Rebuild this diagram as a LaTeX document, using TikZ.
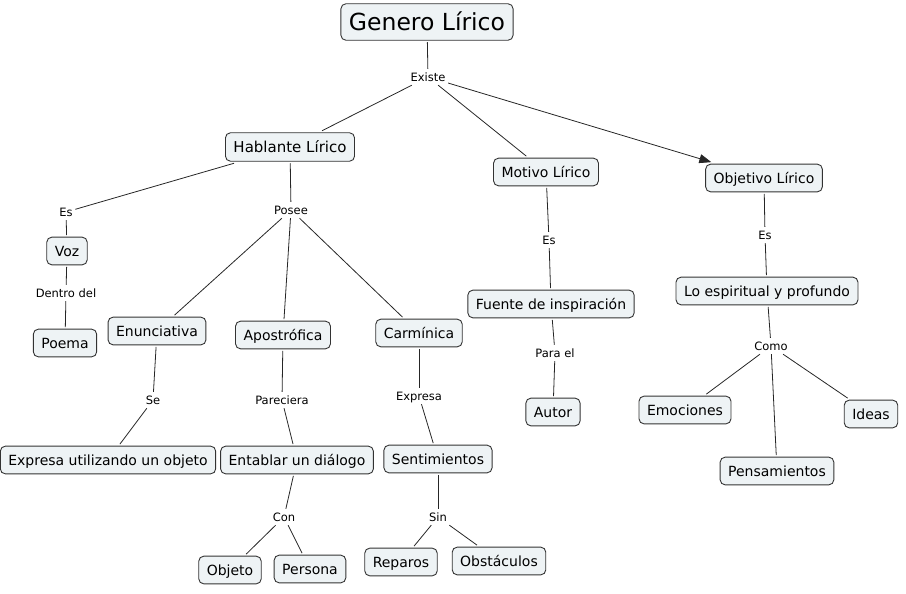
\documentclass[tikz,border=0pt]{standalone}
\usepackage{fontspec}
\setmainfont{DejaVu Sans}
\usetikzlibrary{arrows.meta}
\definecolor{boxfill}{HTML}{EEF3F5}
\definecolor{boxline}{HTML}{333333}
\tikzset{
  concept/.style={draw=boxline, fill=boxfill, rounded corners=5pt, line width=0.9pt,
    font=\fontsize{14}{14}\selectfont, text height=11.9pt, text depth=1.8pt,
    inner xsep=8pt, inner ysep=7pt, outer sep=2pt},
  big/.style={font=\fontsize{23.5}{24}\selectfont, text height=19.9pt, text depth=2.6pt, inner ysep=7pt},
  mid/.style={font=\fontsize{15}{15}\selectfont, text height=12.7pt, text depth=1.8pt},
  lbl/.style={font=\fontsize{11.5}{12}\selectfont, inner sep=2.5pt, text height=9.7pt, text depth=1.3pt},
  link/.style={draw=black!85, line width=0.8pt},
}
\begin{document}
\begin{tikzpicture}[x=1pt,y=-1pt]
\useasboundingbox (0,0) rectangle (906,594);
% concepts
\node[concept,big] (gen) at (427,22) {Genero Lírico};
\node[concept,mid] (hab) at (290,147) {Hablante Lírico};
\node[concept] (mot) at (546,172) {Motivo Lírico};
\node[concept] (obj) at (764,178) {Objetivo Lírico};
\node[concept] (voz) at (67,251) {Voz};
\node[concept] (poe) at (65,343) {Poema};
\node[concept] (enu) at (157,331) {Enunciativa};
\node[concept] (apo) at (283,335) {Apostrófica};
\node[concept] (car) at (419,333) {Carmínica};
\node[concept] (fue) at (551,304) {Fuente de inspiración};
\node[concept] (aut) at (553,412) {Autor};
\node[concept] (esp) at (767,291) {Lo espiritual y profundo};
\node[concept] (emo) at (685,410) {Emociones};
\node[concept] (ide) at (871,414) {Ideas};
\node[concept] (pen) at (777,471) {Pensamientos};
\node[concept] (exu) at (108,460) {Expresa utilizando un objeto};
\node[concept] (ent) at (297,460) {Entablar un diálogo};
\node[concept] (sen) at (438,459) {Sentimientos};
\node[concept] (obo) at (230,570) {Objeto};
\node[concept] (per) at (310,569) {Persona};
\node[concept] (rep) at (401,562) {Reparos};
\node[concept] (obs) at (499,561) {Obstáculos};
% linking phrases
\node[lbl] (lex) at (428,77) {Existe};
\node[lbl] (les) at (66,212) {Es};
\node[lbl] (lpo) at (291,210) {Posee};
\node[lbl] (lde) at (66,293) {Dentro del};
\node[lbl] (lmes) at (549,240) {Es};
\node[lbl] (lpa) at (555,353) {Para el};
\node[lbl] (loes) at (765,235) {Es};
\node[lbl] (lco) at (771,346) {Como};
\node[lbl] (lse) at (153,400) {Se};
\node[lbl] (lpr) at (282,400) {Pareciera};
\node[lbl] (lexp) at (419,396) {Expresa};
\node[lbl] (lcon) at (284,517) {Con};
\node[lbl] (lsin) at (438,517) {Sin};
% connectors
\draw[link] (gen) -- (lex);
\draw[link] (lex) -- (hab);
\draw[link] (lex) -- (mot);
\draw[link,-{Triangle[length=12pt,width=9pt]}] (lex) -- (obj);
\draw[link] (hab) -- (les);
\draw[link] (les) -- (voz);
\draw[link] (voz) -- (lde);
\draw[link] (lde) -- (poe);
\draw[link] (hab) -- (lpo);
\draw[link] (lpo) -- (enu);
\draw[link] (lpo) -- (apo);
\draw[link] (lpo) -- (car);
\draw[link] (enu) -- (lse);
\draw[link] (lse) -- (exu);
\draw[link] (apo) -- (lpr);
\draw[link] (lpr) -- (ent);
\draw[link] (ent) -- (lcon);
\draw[link] (lcon) -- (obo);
\draw[link] (lcon) -- (per);
\draw[link] (car) -- (lexp);
\draw[link] (lexp) -- (sen);
\draw[link] (sen) -- (lsin);
\draw[link] (lsin) -- (rep);
\draw[link] (lsin) -- (obs);
\draw[link] (mot) -- (lmes);
\draw[link] (lmes) -- (fue);
\draw[link] (fue) -- (lpa);
\draw[link] (lpa) -- (aut);
\draw[link] (obj) -- (loes);
\draw[link] (loes) -- (esp);
\draw[link] (esp) -- (lco);
\draw[link] (lco) -- (emo);
\draw[link] (lco) -- (ide);
\draw[link] (lco) -- (pen);
\end{tikzpicture}
\end{document}
